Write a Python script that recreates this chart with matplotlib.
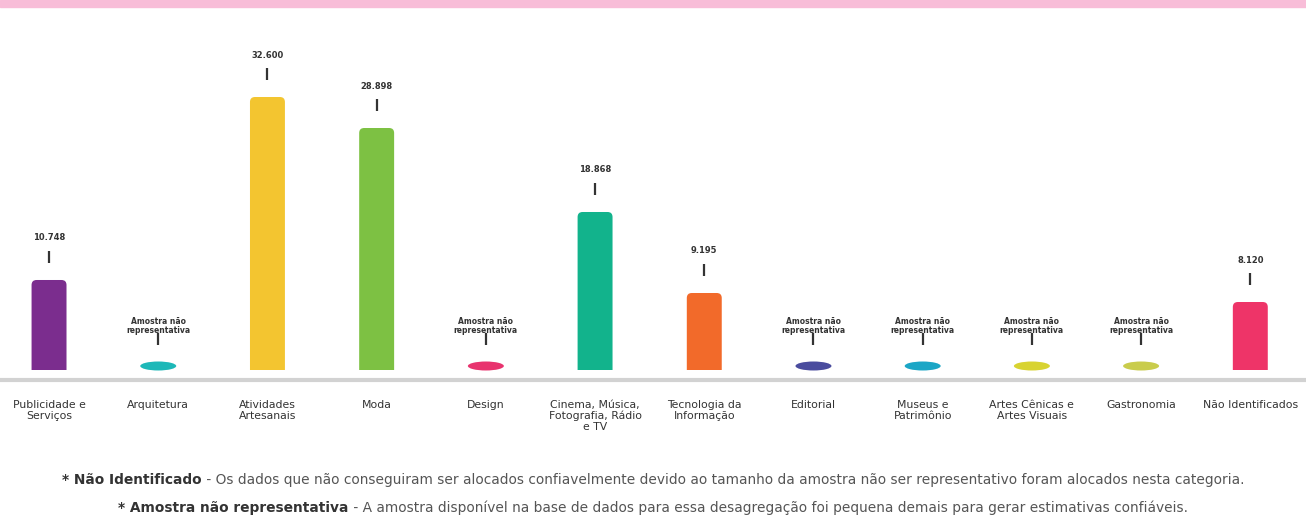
import matplotlib.pyplot as plt
from matplotlib.patches import FancyBboxPatch, Ellipse
import numpy as np

categories = ["Publicidade e\nServiços", "Arquitetura", "Atividades\nArtesanais", "Moda", "Design",
              "Cinema, Música,\nFotografia, Rádio\ne TV", "Tecnologia da\nInformação", "Editorial",
              "Museus e\nPatrimônio", "Artes Cênicas e\nArtes Visuais", "Gastronomia", "Não Identificados"]
# values in thousands, None = amostra não representativa
values = [10.748, None, 32.600, 28.898, None, 18.868, 9.195, None, None, None, None, 8.120]
colors = ["#7B2D8E", "#1DB8B8", "#F3C530", "#7DC143", "#E8336E", "#12B38C",
          "#F26A2A", "#4A4C9E", "#1BA6C6", "#D8D331", "#C9CC4C", "#EE3468"]

W, H = 1306, 521
fig = plt.figure(figsize=(W / 100, H / 100), dpi=100)
fig.patch.set_facecolor("white")

# pink band on top
fig.patches.append(plt.Rectangle((0, 1 - 7 / H), 1, 7 / H, transform=fig.transFigure,
                                 color="#F8BDD8", zorder=0))

ax_bottom, ax_top = 370, 40
ax = fig.add_axes([0, (H - ax_bottom) / H, 1, (ax_bottom - ax_top) / H])
ax.set_xlim(-0.449, 11.51)
ymax = 32.6 * (ax_bottom - ax_top) / 273
ax.set_ylim(0, ymax)
ax.axis("off")

ypp = ymax / (ax_bottom - ax_top)      # data per pixel (y)
xpp = 11.959 / W                       # data per pixel (x)
aspect = ypp / xpp
bw = 0.32
stub = 8 * ypp

x = np.arange(len(categories))
for i, (v, c) in enumerate(zip(values, colors)):
    if v is not None:
        h = v
        p = FancyBboxPatch((x[i] - bw / 2, -30 * ypp), bw, h + 30 * ypp,
                           boxstyle="round,pad=0,rounding_size=%f" % (5 * xpp),
                           mutation_aspect=aspect, fc=c, ec="none", clip_on=True)
        ax.add_patch(p)
        ax.text(x[i], h + 42 * ypp, "%.3f" % v, ha="center", va="center", fontsize=6,
                fontweight="bold", color="#333333")
    else:
        h = stub
        ax.add_patch(Ellipse((x[i], 4 * ypp), 36 * xpp, 9 * ypp, fc=c, ec="none",
                             clip_on=False))
        ax.text(x[i], h + 36 * ypp, "Amostra não\nrepresentativa", ha="center", va="center",
                fontsize=5.5, fontweight="bold", color="#333333", linespacing=1.1)
    # little marker line between label and bar
    ax.plot([x[i], x[i]], [h + 17 * ypp, h + 29 * ypp], color="#333333", lw=1.6,
            solid_capstyle="butt")

# baseline and category labels
fig.add_artist(plt.Line2D([0, 1], [(H - 380) / H] * 2, transform=fig.transFigure,
                          color="#D2D2D2", lw=3))
for i, cat in enumerate(categories):
    fx = (x[i] + 0.449) / 11.959
    fig.text(fx, (H - 400) / H, cat, ha="center", va="top", fontsize=7.8, color="#333333",
             linespacing=1.1)

# footnotes with bold lead-in
notes = [("* Não Identificado", " - Os dados que não conseguiram ser alocados confiavelmente devido ao tamanho da amostra não ser representativo foram alocados nesta categoria."),
         ("* Amostra não representativa", " - A amostra disponível na base de dados para essa desagregação foi pequena demais para gerar estimativas confiáveis.")]
note_y = [480, 508]
renderer = fig.canvas.get_renderer()
for (b, t), ny in zip(notes, note_y):
    tb = fig.text(0, (H - ny) / H, b, fontsize=9.9, fontweight="bold", color="#333333",
                  va="center")
    tr = fig.text(0, (H - ny) / H, t, fontsize=9.9, color="#555555", va="center")
    wb = tb.get_window_extent(renderer).width
    wr = tr.get_window_extent(renderer).width
    start = (W - wb - wr) / 2
    tb.set_x(start / W)
    tr.set_x((start + wb) / W)

fig.savefig("out.png", dpi=100)
